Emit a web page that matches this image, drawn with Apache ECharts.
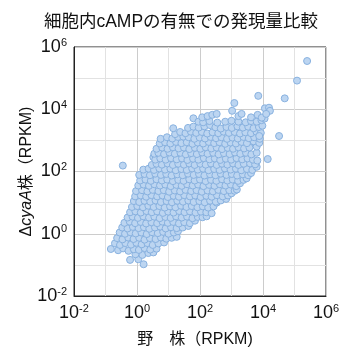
<!DOCTYPE html>
<html><head><meta charset="utf-8">
<script src="https://cdn.jsdelivr.net/npm/echarts@6/dist/echarts.min.js"></script>
<style>html,body{margin:0;padding:0;background:#fff}#c{width:343px;height:355px}</style>
</head><body><div id="c"></div>
<script>
// Values, as log10(RPKM): [wild type, ΔcyaA]
const cloudLow = [
[0.21,-0.98],[-0.22,-0.84],[0.04,-0.82],[0.17,-0.68],[-0.05,-0.66],[0.36,-0.62],[0.52,-0.6],
[-0.83,-0.49],[-0.6,-0.53],[-0.44,-0.47],[-0.27,-0.55],[-0.1,-0.5],[0.06,-0.52],[0.24,-0.46],[0.42,-0.51],[0.62,-0.48],
[-0.7,-0.31],[-0.54,-0.36],[-0.37,-0.3],[-0.19,-0.35],[-0.02,-0.29],[0.15,-0.34],[0.33,-0.3],[0.5,-0.36],[0.68,-0.31],[0.86,-0.28],
[-0.63,-0.14],[-0.46,-0.18],[-0.28,-0.12],[-0.11,-0.17],[0.07,-0.13],[0.24,-0.19],[0.41,-0.14],[0.59,-0.17],[0.76,-0.12],[0.93,-0.16],[1.1,-0.13],[1.26,-0.1],
[-0.55,0.04],[-0.38,0.0],[-0.21,0.05],[-0.04,0.01],[0.14,0.04],[0.31,-0.01],[0.48,0.05],[0.66,0.02],[0.83,0.06],[1.0,0.0],[1.17,0.04],[1.3,0.08],
[-0.47,0.2],[-0.3,0.17],[-0.13,0.22],[0.05,0.18],[0.22,0.21],[0.39,0.16],[0.57,0.2],[0.74,0.23],[0.91,0.17],[1.08,0.21],[1.26,0.18],[1.45,0.2],[1.63,0.25],
[-0.4,0.35],[-0.23,0.39],[-0.06,0.34],[0.12,0.38],[0.29,0.33],[0.46,0.37],[0.64,0.34],[0.81,0.39],[0.98,0.35],[1.15,0.38],[1.33,0.33],[1.5,0.37],[1.68,0.34],[1.84,0.42],
[-0.3,0.52],[-0.14,0.55],[0.03,0.51],[0.2,0.56],[0.38,0.52],[0.55,0.55],[0.72,0.5],[0.9,0.54],[1.07,0.51],[1.24,0.56],[1.42,0.52],[1.59,0.55],[1.76,0.5],[1.93,0.54],[2.08,0.53],[2.21,0.56],
[-0.22,0.69],[-0.05,0.72],[0.12,0.68],[0.3,0.73],[0.47,0.69],[0.64,0.72],[0.82,0.67],[0.99,0.71],[1.16,0.68],[1.34,0.73],[1.51,0.69],[1.68,0.72],[1.86,0.68],[2.03,0.71],[2.2,0.69],[2.37,0.66],
[-0.16,0.86],[0.01,0.89],[0.19,0.85],[0.36,0.9],[0.53,0.86],[0.71,0.89],[0.88,0.84],[1.05,0.88],[1.22,0.85],[1.4,0.9],[1.57,0.86],[1.74,0.89],[1.92,0.85],[2.09,0.88],[2.26,0.84],[2.43,0.88],[2.53,1.0],
[-0.1,1.05],[0.07,1.02],[0.24,1.06],[0.42,1.03],[0.59,1.07],[0.76,1.02],[0.94,1.05],[1.11,1.01],[1.28,1.06],[1.46,1.03],[1.63,1.07],[1.8,1.02],[1.98,1.05],[2.15,1.01],[2.32,1.06],[2.5,1.03],[2.66,1.07],[2.83,1.12]
];
const cloudMid = [
[-0.06,1.2],[0.12,1.23],[0.29,1.19],[0.46,1.24],[0.64,1.2],[0.81,1.23],[0.98,1.18],[1.16,1.22],[1.33,1.19],[1.5,1.24],[1.68,1.2],[1.85,1.23],[2.02,1.18],[2.2,1.22],[2.37,1.19],[2.54,1.24],[2.72,1.2],[2.89,1.23],[3.0,1.3],
[-0.03,1.37],[0.16,1.4],[0.33,1.36],[0.5,1.41],[0.68,1.37],[0.85,1.4],[1.02,1.35],[1.2,1.39],[1.37,1.36],[1.54,1.41],[1.72,1.37],[1.89,1.4],[2.06,1.35],[2.24,1.39],[2.41,1.36],[2.58,1.41],[2.76,1.37],[2.93,1.4],[3.1,1.38],[3.17,1.42],
[0.04,1.55],[0.21,1.58],[0.38,1.54],[0.55,1.59],[0.73,1.55],[0.9,1.58],[1.07,1.53],[1.25,1.57],[1.42,1.54],[1.59,1.59],[1.77,1.55],[1.94,1.58],[2.11,1.53],[2.29,1.57],[2.46,1.54],[2.63,1.59],[2.81,1.55],[2.98,1.58],[3.15,1.53],[3.27,1.62],
[0.1,1.71],[0.27,1.74],[0.44,1.7],[0.62,1.75],[0.79,1.71],[0.96,1.74],[1.14,1.69],[1.31,1.73],[1.48,1.7],[1.66,1.75],[1.83,1.71],[2.0,1.74],[2.18,1.69],[2.35,1.73],[2.52,1.7],[2.7,1.75],[2.87,1.71],[3.04,1.74],[3.21,1.7],[3.38,1.73],[3.48,1.78],
[0.07,1.89],[0.24,1.92],[0.41,1.88],[0.58,1.93],[0.76,1.89],[0.93,1.92],[1.1,1.87],[1.28,1.91],[1.45,1.88],[1.62,1.93],[1.8,1.89],[1.97,1.92],[2.14,1.87],[2.32,1.91],[2.49,1.88],[2.66,1.93],[2.84,1.89],[3.01,1.92],[3.18,1.87],[3.36,1.91],[3.53,1.88],[3.62,1.95],
[0.2,2.06],[0.37,2.09],[0.54,2.05],[0.71,2.1],[0.89,2.06],[1.06,2.09],[1.23,2.04],[1.41,2.08],[1.58,2.05],[1.75,2.1],[1.93,2.06],[2.1,2.09],[2.27,2.04],[2.45,2.08],[2.62,2.05],[2.79,2.1],[2.97,2.06],[3.14,2.09],[3.31,2.04],[3.49,2.08],[3.66,2.05],[3.8,2.15],
[0.47,2.21],[0.62,2.25],[0.79,2.22],[0.97,2.26],[1.14,2.21],[1.31,2.25],[1.49,2.22],[1.66,2.26],[1.83,2.21],[2.01,2.25],[2.18,2.22],[2.35,2.26],[2.53,2.21],[2.7,2.25],[2.87,2.22],[3.05,2.26],[3.22,2.21],[3.39,2.25],[3.59,2.26],[3.75,2.23]
];
const cloudHigh = [
[0.52,2.46],[0.58,2.38],[0.74,2.42],[0.91,2.38],[1.08,2.43],[1.26,2.39],[1.43,2.42],[1.6,2.37],[1.78,2.41],[1.95,2.38],[2.12,2.43],[2.3,2.39],[2.47,2.42],[2.64,2.37],[2.82,2.41],[2.99,2.38],[3.16,2.43],[3.34,2.39],[3.51,2.42],[3.68,2.38],[3.82,2.35],
[0.55,2.57],[0.68,2.6],[0.86,2.56],[1.03,2.61],[1.2,2.57],[1.38,2.6],[1.55,2.55],[1.72,2.59],[1.9,2.56],[2.07,2.61],[2.24,2.57],[2.42,2.6],[2.59,2.55],[2.76,2.59],[2.94,2.56],[3.11,2.61],[3.28,2.57],[3.46,2.6],[3.63,2.55],[3.8,2.6],
[0.62,2.73],[0.8,2.77],[0.97,2.73],[1.14,2.78],[1.32,2.74],[1.49,2.77],[1.66,2.72],[1.84,2.76],[2.01,2.73],[2.18,2.78],[2.36,2.74],[2.53,2.77],[2.7,2.72],[2.88,2.76],[3.05,2.73],[3.22,2.78],[3.4,2.74],[3.61,2.91],[3.57,2.77],[3.8,2.8],
[0.72,2.9],[0.89,2.94],[1.06,2.9],[1.24,2.95],[1.41,2.91],[1.58,2.94],[1.76,2.89],[1.93,2.93],[2.1,2.9],[2.28,2.95],[2.45,2.91],[2.62,2.94],[2.8,2.89],[2.97,2.93],[3.14,2.9],[3.32,2.95],[3.49,2.91],[3.7,2.97],[3.88,2.92],
[0.75,3.05],[0.95,3.1],[1.12,3.06],[1.3,3.11],[1.47,3.12],[1.64,3.1],[1.82,3.05],[1.99,3.09],[2.16,3.06],[2.34,3.11],[2.51,3.07],[2.68,3.1],[2.86,3.05],[3.03,3.09],[3.2,3.06],[3.38,3.11],[3.55,3.07],[3.72,3.1],[3.9,3.05],
[1.21,3.2],[1.37,3.27],[1.54,3.23],[1.71,3.28],[1.88,3.24],[2.06,3.27],[2.23,3.22],[2.4,3.26],[2.58,3.23],[2.75,3.28],[2.92,3.24],[3.1,3.27],[3.27,3.22],[3.44,3.26],[3.62,3.23],[3.79,3.28],[3.93,3.24],
[1.15,3.39],[1.62,3.4],[1.79,3.44],[1.96,3.41],[2.14,3.45],[2.32,3.49],[2.49,3.42],[2.66,3.38],[2.84,3.43],[3.01,3.4],[3.19,3.45],[3.36,3.41],[3.53,3.44],[3.7,3.39],[3.87,3.43],[3.98,3.47],
[1.79,3.71],[1.95,3.6],[2.1,3.58],[2.3,3.62],[2.55,3.57],[2.8,3.6],[3.0,3.63],[3.22,3.6],[3.45,3.58],[3.62,3.62],[3.8,3.6],[3.95,3.65],[4.05,3.7],
[2.07,3.74],[2.24,3.78],[2.39,3.82],[2.53,3.85],[3.02,3.95],[3.22,3.78],[3.32,3.85],[3.62,3.74],[3.83,3.82],[3.96,3.73],[4.06,4.03],[4.19,4.05],[4.22,3.95],[4.1,3.85],[3.09,4.2]
];
const outliers = [
[-0.45,2.19],[4.15,2.40],[4.51,3.14],[3.88,3.14],[3.85,4.43],[4.69,4.35],[5.08,4.92],[5.40,5.55]
];
const axisMinRPKM = 0.01, axisMaxRPKM = 1e6;
const titleText = '細胞内cAMPの有無での発現量比較';
const xName = '野　株（RPKM)';

const FONT = "'Liberation Sans', Arial, 'Noto Sans CJK JP', sans-serif";
const all = cloudLow.concat(cloudMid, cloudHigh, outliers);
const data = all.map(p => [Math.pow(10, p[0]), Math.pow(10, p[1])]);

function fmt(v) {
  const e = Math.round(Math.log10(v));
  if (e % 2 !== 0) return '';
  return '{b|10}{s|' + e + '}';
}
const labelRich = {
  b: { fontSize: 18, fontFamily: FONT, color: '#111' },
  s: { fontSize: 11, fontFamily: FONT, color: '#111', padding: [0, 0, 9, 0] }
};
function axisCommon() {
  return {
    type: 'log', logBase: 10, min: axisMinRPKM, max: axisMaxRPKM, interval: 1,
    axisLine: { show: true, lineStyle: { color: '#222', width: 1 } },
    axisTick: { show: false },
    splitLine: { show: true, lineStyle: { color: ['#cccccc', '#e2e2e2'], width: 1 } },
    axisLabel: { formatter: fmt, rich: labelRich, color: '#111' },
    nameLocation: 'middle',
    nameMoveOverlap: false
  };
}
const chart = echarts.init(document.getElementById('c'), null, { renderer: 'canvas' });
const xAxis = Object.assign(axisCommon(), {
  name: xName, nameGap: 36,
  nameTextStyle: { fontSize: 16, fontFamily: FONT, color: '#111', padding: [0, 10, 0, 0] }
});
xAxis.axisLabel = Object.assign({}, xAxis.axisLabel, { margin: 7 });
const yAxis = Object.assign(axisCommon(), {
  name: '{n|Δ}{i|cyaA}{n|株（RPKM)}', nameGap: 39,
  nameTextStyle: { rich: {
    n: { fontSize: 16, fontFamily: FONT, color: '#111' },
    i: { fontSize: 16, fontFamily: FONT, fontStyle: 'italic', color: '#111' }
  } }
});
yAxis.axisLabel = Object.assign({}, yAxis.axisLabel, { margin: 7 });
chart.setOption({
  animation: false,
  title: { text: titleText, left: 176, textAlign: 'center', top: 8,
    textStyle: { fontSize: 17.5, fontWeight: 'normal', fontFamily: FONT, color: '#111' } },
  grid: { left: 74, right: 17, top: 47, bottom: 59, show: true, borderColor: '#222', borderWidth: 1, containLabel: false },
  xAxis: xAxis,
  yAxis: yAxis,
  series: [{
    type: 'scatter', data: data, symbol: 'circle', symbolSize: 7,
    itemStyle: { color: '#bcd5f1', borderColor: '#88b1df', borderWidth: 1, opacity: 1 }
  }]
});
</script></body></html>
